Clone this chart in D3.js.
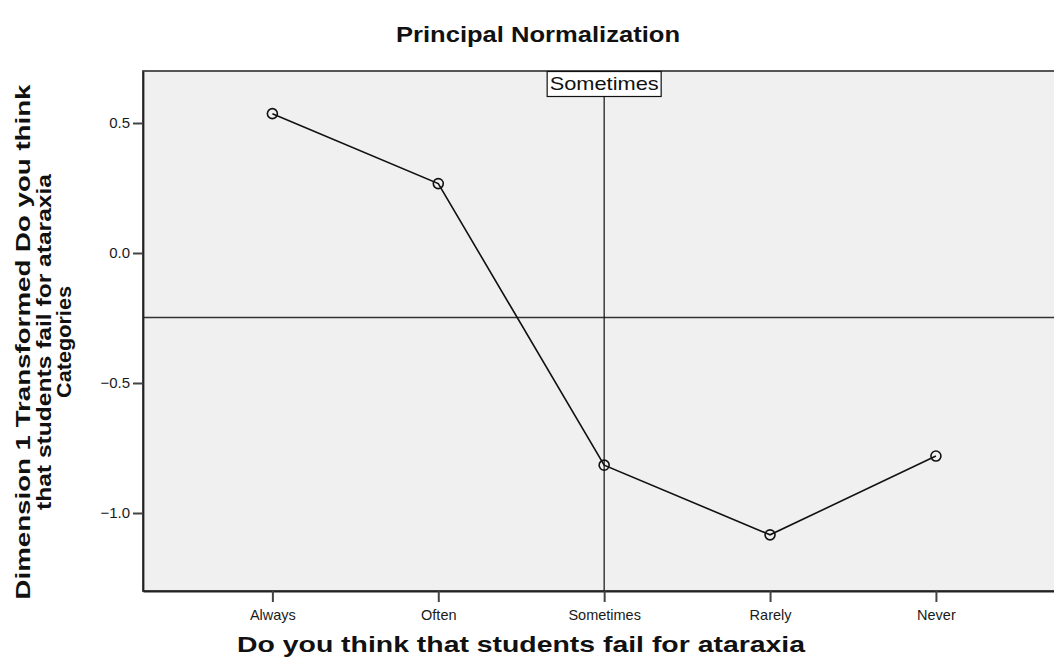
<!DOCTYPE html>
<html>
<head>
<meta charset="utf-8">
<script src="https://cdn.jsdelivr.net/npm/d3@7"></script>
<style>
body{margin:0;background:#fff;overflow:hidden;}
svg{display:block;font-family:"Liberation Sans",Arial,sans-serif;}
</style>
</head>
<body>
<div id="chart"></div>
<script>
// values
const categories=["Always","Often","Sometimes","Rarely","Never"];
const values=[0.536,0.267,-0.816,-1.084,-0.781];
const yTicks=[-1.0,-0.5,0.0,0.5];
const refValue=-0.248;          // horizontal reference line
const refCategory="Sometimes";  // vertical reference line
const yTitle=["Dimension 1 Transformed Do you think","that students fail for ataraxia","Categories"];
const yTitleLen=[515,336,112];

const width=1054,height=671;
const margin={top:71,right:-8,bottom:80,left:143};
const plotW=width-margin.left-margin.right;
const plotH=height-margin.top-margin.bottom;

const svg=d3.select("#chart").append("svg")
  .attr("width",width)
  .attr("height",height);

const xScale=d3.scaleLinear().domain([0.22,5.76]).range([0,plotW]);
const yScale=d3.scaleLinear().domain([-1.3,0.7]).range([plotH,0]);

// title
svg.append("text")
  .attr("x",538).attr("y",42)
  .attr("text-anchor","middle")
  .attr("font-weight","bold")
  .attr("font-size","22px")
  .attr("fill","#111")
  .attr("textLength",284)
  .attr("lengthAdjust","spacingAndGlyphs")
  .text("Principal Normalization");

const g=svg.append("g")
  .attr("transform","translate("+margin.left+","+margin.top+")");

g.append("rect")
  .attr("width",plotW).attr("height",plotH)
  .attr("fill","#f0f0f0")
  .attr("stroke","#444")
  .attr("stroke-width",1.8);

// reference lines
g.append("line")
  .attr("x1",0).attr("x2",plotW)
  .attr("y1",yScale(refValue)).attr("y2",yScale(refValue))
  .attr("stroke","#333").attr("stroke-width",1.5);

const refX=xScale(categories.indexOf(refCategory)+1);
g.append("line")
  .attr("x1",refX).attr("x2",refX)
  .attr("y1",0).attr("y2",plotH)
  .attr("stroke","#111").attr("stroke-width",1.2);

// label box on the vertical line
const lbl=g.append("g").attr("transform","translate("+refX+",0)");
lbl.append("rect")
  .attr("x",-57).attr("y",0.5)
  .attr("width",114).attr("height",25)
  .attr("fill","#fff")
  .attr("stroke","#111").attr("stroke-width",1.2);
lbl.append("text")
  .attr("y",19)
  .attr("text-anchor","middle")
  .attr("font-size","19px")
  .attr("fill","#111")
  .attr("textLength",109)
  .attr("lengthAdjust","spacingAndGlyphs")
  .text(refCategory);

// axes
const xAxis=d3.axisBottom(xScale)
  .tickValues(d3.range(1,categories.length+1))
  .tickFormat((d)=>categories[d-1])
  .tickSize(11)
  .tickSizeOuter(0)
  .tickPadding(8);

const xg=g.append("g")
  .attr("transform","translate(0,"+plotH+")")
  .call(xAxis);
xg.select(".domain").attr("stroke","#222").attr("stroke-width",1.8);
xg.selectAll(".tick line").attr("stroke","#444").attr("stroke-width",2);
xg.selectAll(".tick text").attr("font-size","14.5px").attr("fill","#1a1a1a")
  .attr("font-family","'Liberation Sans',Arial,sans-serif");

const yAxis=d3.axisLeft(yScale)
  .tickValues(yTicks)
  .tickFormat(d3.format(".1f"))
  .tickSize(10)
  .tickSizeOuter(0)
  .tickPadding(3);

const yg=g.append("g").call(yAxis);
yg.select(".domain").attr("stroke","#222").attr("stroke-width",1.8);
yg.selectAll(".tick line").attr("stroke","#444").attr("stroke-width",2);
yg.selectAll(".tick text").attr("font-size","15px").attr("fill","#1a1a1a")
  .attr("font-family","'Liberation Sans',Arial,sans-serif");

// data line and markers
const line=d3.line()
  .x((d,i)=>xScale(i+1))
  .y((d)=>yScale(d));

g.append("path")
  .datum(values)
  .attr("d",line)
  .attr("fill","none")
  .attr("stroke","#111")
  .attr("stroke-width",1.6);

g.selectAll("circle.pt")
  .data(values)
  .enter()
  .append("circle")
  .attr("class","pt")
  .attr("cx",(d,i)=>xScale(i+1))
  .attr("cy",(d)=>yScale(d))
  .attr("r",5)
  .attr("fill","none")
  .attr("stroke","#111")
  .attr("stroke-width",1.6);

// axis titles
svg.append("text")
  .attr("x",521).attr("y",652)
  .attr("text-anchor","middle")
  .attr("font-weight","bold")
  .attr("font-size","22px")
  .attr("fill","#111")
  .attr("textLength",568)
  .attr("lengthAdjust","spacingAndGlyphs")
  .text("Do you think that students fail for ataraxia");

svg.append("g")
  .attr("transform","translate(30,342) rotate(-90)")
  .selectAll("text")
  .data(yTitle)
  .enter()
  .append("text")
  .attr("x",0)
  .attr("y",(d,i)=>i*20.5)
  .attr("text-anchor","middle")
  .attr("font-weight","bold")
  .attr("font-size","21px")
  .attr("fill","#111")
  .attr("textLength",(d,i)=>yTitleLen[i])
  .attr("lengthAdjust","spacingAndGlyphs")
  .text((d)=>d);
</script>
</body>
</html>
